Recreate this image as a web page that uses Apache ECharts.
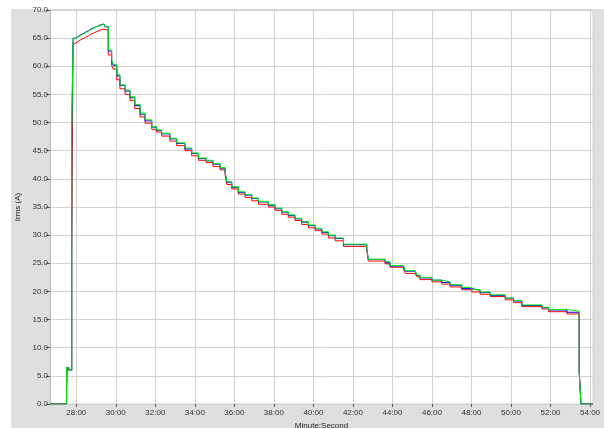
<!DOCTYPE html>
<html>
<head>
<meta charset="utf-8">
<script src="https://cdn.jsdelivr.net/npm/echarts@6/dist/echarts.min.js"></script>
<style>
  html, body { margin: 0; padding: 0; background: #fff; }
  #main { width: 604px; height: 428px; }
</style>
</head>
<body>
<div id="main"></div>
<script>
// time in minutes (step start), values in A
const times = [26.67, 27.51, 27.55, 27.63, 27.77,
  27.84, 27.96, 28.09, 28.22, 28.35, 28.48, 28.61, 28.74, 28.87, 29.00, 29.13, 29.26, 29.40,
  29.45, 29.62, 29.79, 29.87, 30.05, 30.21, 30.47, 30.72, 30.96, 31.23,
  31.48, 31.82, 32.07, 32.32, 32.74, 33.08, 33.50, 33.84, 34.18, 34.57,
  34.92, 35.28, 35.53, 35.62, 35.87, 36.20, 36.54, 36.88, 37.22, 37.72,
  38.06, 38.40, 38.73, 39.07, 39.41, 39.75, 40.09, 40.43, 40.76, 41.10,
  41.52, 42.70, 42.78, 43.63, 43.88, 44.56, 44.64, 45.15, 45.24, 45.40,
  46.00, 46.50, 46.92, 47.51, 48.02, 48.44, 48.95, 49.71, 50.13, 50.55,
  51.57, 51.90, 52.83, 53.45, 53.54, 54.15];
const redVals = [0, 2.6, 6.5, 6.0, 28.0,
  64.1, 64.4, 64.7, 64.9, 65.2, 65.4, 65.7, 65.9, 66.1, 66.3, 66.5, 66.6, 66.8,
  66.4, 62.0, 60.2, 59.5, 57.6, 56.0, 55.0, 53.9, 52.5, 51.0,
  49.9, 48.8, 48.3, 47.6, 46.7, 45.9, 45.0, 44.1, 43.3, 42.9,
  42.2, 41.6, 40.8, 39.0, 38.2, 37.3, 36.7, 36.1, 35.5, 35.0,
  34.4, 33.7, 33.2, 32.6, 31.9, 31.3, 30.8, 30.2, 29.5, 29.0,
  28.0, 27.3, 25.4, 24.9, 24.3, 23.9, 23.2, 23.0, 22.6, 22.1,
  21.7, 21.3, 20.8, 20.3, 19.9, 19.5, 19.1, 18.5, 18.0, 17.3,
  16.9, 16.4, 16.0, 5.9, 0, 0];
const blueVals = [0, 6.5, 6.5, 6.0, 49.0,
  65.0, 65.3, 65.6, 65.8, 66.1, 66.3, 66.6, 66.8, 67.0, 67.2, 67.4, 67.5, 67.6,
  67.0, 62.7, 61.0, 60.1, 58.3, 56.6, 55.6, 54.4, 53.0, 51.5,
  50.3, 49.2, 48.6, 48.0, 47.1, 46.3, 45.3, 44.5, 43.6, 43.2,
  42.6, 41.9, 41.2, 39.4, 38.5, 37.6, 37.1, 36.5, 35.9, 35.3,
  34.7, 34.1, 33.5, 32.9, 32.3, 31.7, 31.1, 30.5, 29.9, 29.4,
  28.3, 27.6, 25.7, 25.1, 24.5, 24.2, 23.6, 23.4, 22.8, 22.4,
  22.0, 21.6, 21.1, 20.5, 20.2, 19.8, 19.3, 18.8, 18.3, 17.5,
  17.1, 16.7, 16.3, 5.9, 0, 0];
const greenVals = [0, 6.5, 6.5, 6.0, 49.0,
  64.9, 65.2, 65.5, 65.7, 66.0, 66.2, 66.5, 66.7, 67.0, 67.1, 67.3, 67.5, 67.6,
  67.1, 62.9, 61.2, 60.3, 58.5, 56.7, 55.8, 54.6, 53.2, 51.7,
  50.5, 49.3, 48.7, 48.1, 47.2, 46.4, 45.5, 44.6, 43.7, 43.3,
  42.7, 42.0, 41.3, 39.5, 38.6, 37.7, 37.2, 36.6, 36.0, 35.4,
  34.8, 34.2, 33.6, 33.0, 32.4, 31.8, 31.2, 30.6, 30.0, 29.5,
  28.4, 27.7, 25.7, 25.3, 24.6, 24.4, 23.7, 23.5, 22.9, 22.5,
  22.0, 21.7, 21.2, 20.7, 20.3, 19.9, 19.4, 18.8, 18.4, 17.6,
  17.2, 16.8, 16.5, 5.9, 0, 0];
const xTicks = [28, 30, 32, 34, 36, 38, 40, 42, 44, 46, 48, 50, 52, 54];

const pairs = vals => times.map((t, i) => [t, vals[i]]);
const font = 'Liberation Sans, Arial, sans-serif';

const chart = echarts.init(document.getElementById('main'));
const option = {
    animation: false,
    backgroundColor: '#fff',
    // grey panel behind the plot
    graphic: [{
        type: 'rect',
        silent: true,
        z: -100,
        shape: { x: 11, y: 9, width: 593, height: 419 },
        style: { fill: '#dfdfdf' }
    }],
    grid: {
        left: 50, top: 10, right: 11, bottom: 24,
        outerBoundsMode: 'none',
        containLabel: false,
        show: true,
        backgroundColor: '#fff',
        borderColor: '#cfcfcf',
        borderWidth: 1
    },
    xAxis: {
        type: 'value',
        min: 26.67,
        max: 54.15,
        name: 'Minute:Second',
        nameLocation: 'middle',
        nameGap: 14,
        nameTextStyle: { color: '#222', fontSize: 8, fontFamily: font },
        axisLine: { show: false },
        axisTick: { show: true, length: 3, lineStyle: { color: '#555' }, customValues: xTicks },
        axisLabel: {
            color: '#333', fontSize: 8, fontFamily: font, margin: 5,
            customValues: xTicks,
            formatter: v => v + ':00'
        },
        splitLine: { show: true, lineStyle: { color: '#d2d2d2', width: 1 } }
    },
    yAxis: {
        type: 'value',
        min: 0,
        max: 70,
        interval: 5,
        name: 'Irms (A)',
        nameLocation: 'middle',
        nameRotate: 90,
        nameGap: 27,
        nameTextStyle: { color: '#222', fontSize: 8, fontFamily: font },
        axisLine: { show: true, lineStyle: { color: '#bdbdbd' } },
        axisTick: { show: true, length: 4, lineStyle: { color: '#555' } },
        axisLabel: {
            color: '#333', fontSize: 8, fontFamily: font, margin: 2,
            formatter: v => v.toFixed(1)
        },
        splitLine: { show: true, lineStyle: { color: '#d2d2d2', width: 1 } }
    },
    series: [{
        name: 'red',
        type: 'line',
        step: 'end',
        showSymbol: false,
        data: pairs(redVals),
        lineStyle: { color: '#ff0000', width: 1 }
    }, {
        name: 'blue',
        type: 'line',
        step: 'end',
        showSymbol: false,
        data: pairs(blueVals),
        lineStyle: { color: '#0000ff', width: 1 }
    }, {
        name: 'green',
        type: 'line',
        step: 'end',
        showSymbol: false,
        data: pairs(greenVals),
        lineStyle: { color: '#00f000', width: 1 }
    }]
};

chart.setOption(option);
window.addEventListener('resize', () => chart.resize());
</script>
</body>
</html>
